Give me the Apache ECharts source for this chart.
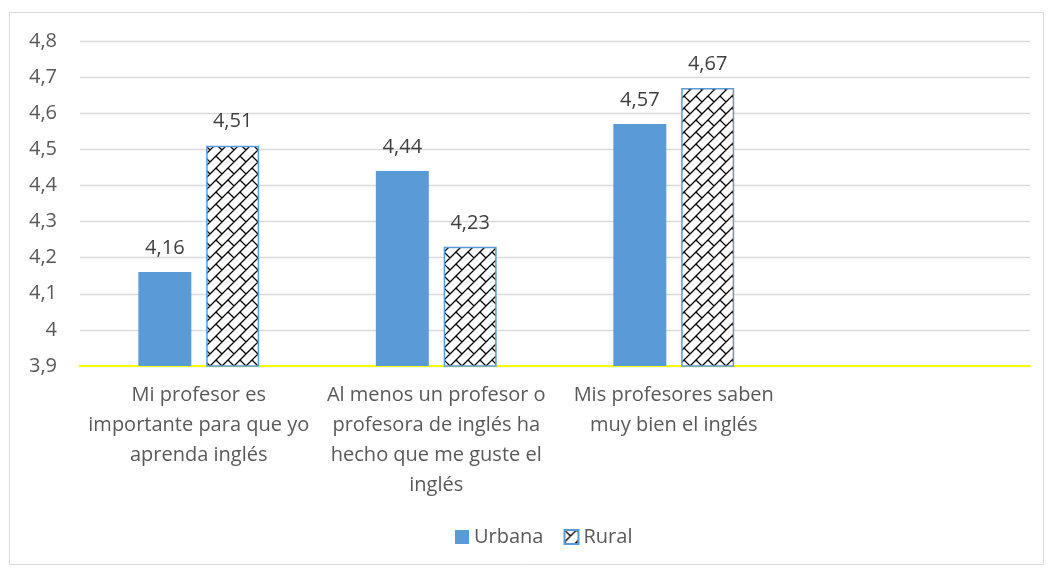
<!DOCTYPE html>
<html><head><meta charset="utf-8">
<script src="https://cdn.jsdelivr.net/npm/echarts@6/dist/echarts.min.js"></script>
<style>html,body{margin:0;padding:0;background:#fff}#c{width:1051px;height:569px}</style>
</head><body><div id="c"></div>
<script>
const categories = ["Mi profesor es\nimportante para que yo\naprenda inglés", "Al menos un profesor o\nprofesora de inglés ha\nhecho que me guste el\ninglés", "Mis profesores saben\nmuy bien el inglés", ""];
const urbana = [4.16, 4.44, 4.57, null];
const rural = [4.51, 4.23, 4.67, null];
const seriesNames = ["Urbana", "Rural"];

function makePattern(){
  const s = 24;
  const cv = document.createElement('canvas');
  cv.width = s; cv.height = s;
  const g = cv.getContext('2d');
  g.fillStyle = '#fff'; g.fillRect(0,0,s,s);
  g.strokeStyle = '#000'; g.lineWidth = 1.3;
  const P = (c, v) => [(c + v) / 2, (c - v) / 2];
  g.beginPath();
  for (let k = -2; k <= 6; k++) {
    const c = 12 * k;
    let a = P(c, -60), b = P(c, 60);
    g.moveTo(a[0], a[1]); g.lineTo(b[0], b[1]);
    for (let m = -4; m <= 4; m++) {
      const v = 12 * k + 24 * m;
      const p1 = P(c, v), p2 = P(c + 12, v);
      g.moveTo(p1[0], p1[1]); g.lineTo(p2[0], p2[1]);
    }
  }
  g.stroke();
  return cv;
}
const pat = makePattern();
const font = '"Open Sans", "Liberation Sans", sans-serif';
const fmt = v => String(v).replace('.', ',');
const chart = echarts.init(document.getElementById('c'));
chart.setOption({
  animation: false,
  graphic: [{type:'rect', shape:{x:9.5,y:12.5,width:1034,height:552}, style:{fill:'none', stroke:'#d9d9d9', lineWidth:1}}],
  grid: {left: 80, right: 21, top: 41, bottom: 203},
  legend: {
    bottom: 17, left: 450, itemWidth: 14, itemHeight: 14, itemGap: 20, icon: 'rect',
    textStyle: {fontFamily: font, fontSize: 20, color: '#595959'},
    data: seriesNames
  },
  xAxis: {
    type: 'category', data: categories,
    axisLine: {lineStyle: {color: '#ffff00', width: 2}},
    axisTick: {show: false},
    axisLabel: {interval: 0, fontFamily: font, fontSize: 20, color: '#595959', lineHeight: 30, margin: 14}
  },
  yAxis: {
    type: 'value', min: 3.9, max: 4.8, interval: 0.1,
    axisLine: {show: false}, axisTick: {show: false},
    splitLine: {lineStyle: {color: '#d9d9d9', width: 1.3}},
    axisLabel: {fontFamily: font, fontSize: 20, color: '#595959', margin: 23,
      formatter: v => fmt(Math.round(v * 10) / 10)}
  },
  series: [
    {name: seriesNames[0], type: 'bar', data: urbana, barWidth: 53, barGap: '28%',
     itemStyle: {color: '#5b9bd5'},
     label: {show: true, position: 'top', distance: 14, fontFamily: font, fontSize: 20, color: '#404040',
       formatter: p => fmt(p.value)}},
    {name: seriesNames[1], type: 'bar', data: rural, barWidth: 53,
     itemStyle: {color: {image: pat, repeat: 'repeat'}, borderColor: '#5b9bd5', borderWidth: 1.5},
     label: {show: true, position: 'top', distance: 14, fontFamily: font, fontSize: 20, color: '#404040',
       formatter: p => fmt(p.value)}}
  ]
});
</script></body></html>
